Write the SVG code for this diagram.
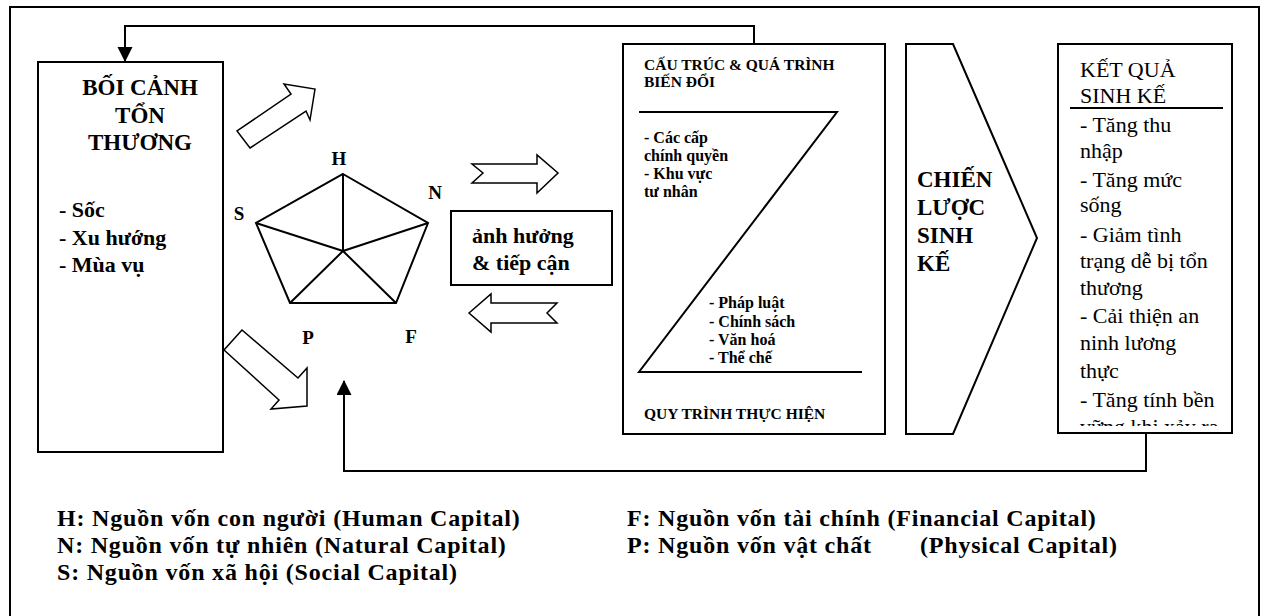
<svg xmlns="http://www.w3.org/2000/svg" width="1267" height="616" viewBox="0 0 1267 616">
<style>
.b{font-family:"Liberation Serif","Times New Roman",serif;font-weight:bold;fill:#000}
.r{font-family:"Liberation Serif","Times New Roman",serif;fill:#000}
.lg{font-size:24px;letter-spacing:0.8px}
.box{fill:#fff;stroke:#000;stroke-width:2}
.blk{fill:#fff;stroke:#000;stroke-width:1.5;stroke-linejoin:miter}
.ln{fill:none;stroke:#000;stroke-width:2}
</style>
<defs>
<marker id="ah" markerWidth="16" markerHeight="16" refX="14" refY="7.5" orient="auto" markerUnits="userSpaceOnUse"><path d="M0,0 L15,7.5 L0,15 Z" fill="#000"/></marker>
<clipPath id="clipOut"><rect x="1058" y="44" width="174" height="382"/></clipPath>
</defs>
<rect width="1267" height="616" fill="#fff"/>
<rect id="frame" x="10" y="7" width="1249" height="620" fill="none" stroke="#000" stroke-width="2"/>

<g id="connectors">
<path class="ln" d="M754,44 V26 H125 V61" marker-end="url(#ah)"/>
<path class="ln" d="M1146,433 V471 H344 V381" marker-end="url(#ah)"/>
<polygon class="blk" points="250,148 306,111 310,120 315,89 284,84 291,94 237,131"/>
<polygon class="blk" points="242,330 224,350 279,400 271,409 307,406 307,368 298,378"/>
<polygon class="blk" points="472,164 537,164 537,155 558,173 537,193 537,183 472,183 483,173"/>
<polygon class="blk" points="469,313 491,294 491,303 557,303 547,313 557,323 491,323 491,332"/>
</g>

<g id="vulnerability">
<rect class="box" x="38" y="62" width="185" height="390"/>
<text class="b" font-size="23" text-anchor="middle"><tspan x="140" y="95">BỐI CẢNH</tspan><tspan x="140" y="123">TỔN</tspan><tspan x="140" y="150">THƯƠNG</tspan></text>
<text class="b" font-size="22"><tspan x="59" y="217">- Sốc</tspan><tspan x="59" y="245">- Xu hướng</tspan><tspan x="59" y="272">- Mùa vụ</tspan></text>
</g>

<g id="assets">
<polygon points="343,174 428,223 396,303 290,303 256,223" fill="#fff" stroke="#000" stroke-width="2"/>
<path d="M343,251 L343,174 M343,251 L428,223 M343,251 L396,303 M343,251 L290,303 M343,251 L256,223" stroke="#000" stroke-width="2" fill="none"/>
<text class="b" font-size="19" text-anchor="middle"><tspan x="339" y="165">H</tspan><tspan x="435" y="199">N</tspan><tspan x="239" y="220">S</tspan><tspan x="308" y="344">P</tspan><tspan x="411" y="343">F</tspan></text>
</g>

<g id="influence">
<rect class="box" x="451" y="211" width="161" height="74"/>
<text class="b" font-size="22"><tspan x="472" y="243">ảnh hưởng</tspan><tspan x="472" y="270">&amp; tiếp cận</tspan></text>
</g>

<g id="structures">
<rect class="box" x="623" y="44" width="262" height="390"/>
<path class="ln" d="M639,112 H837 L639,372 H862"/>
<text class="b" font-size="15.5"><tspan x="644" y="70">CẤU TRÚC &amp; QUÁ TRÌNH</tspan><tspan x="644" y="87">BIẾN ĐỔI</tspan></text>
<text class="b" font-size="16"><tspan x="644" y="143">- Các cấp</tspan><tspan x="644" y="161">chính quyền</tspan><tspan x="644" y="179">- Khu vực</tspan><tspan x="644" y="197">tư nhân</tspan></text>
<text class="b" font-size="16"><tspan x="709" y="308">- Pháp luật</tspan><tspan x="709" y="327">- Chính sách</tspan><tspan x="709" y="345">- Văn hoá</tspan><tspan x="709" y="363">- Thể chế</tspan></text>
<text class="b" font-size="15.5" x="644" y="419">QUY TRÌNH THỰC HIỆN</text>
</g>

<g id="strategies">
<polygon class="box" points="906,44 953,44 1037,238 953,434 906,434"/>
<text class="b" font-size="23"><tspan x="917" y="187">CHIẾN</tspan><tspan x="917" y="215">LƯỢC</tspan><tspan x="917" y="243">SINH</tspan><tspan x="917" y="271">KẾ</tspan></text>
</g>

<g id="outcomes">
<rect class="box" x="1058" y="44" width="174" height="389"/>
<line x1="1070" y1="108" x2="1223" y2="108" stroke="#000" stroke-width="2"/>
<g clip-path="url(#clipOut)">
<text class="r" font-size="22"><tspan x="1080" y="77">KẾT QUẢ</tspan><tspan x="1080" y="103">SINH KẾ</tspan><tspan x="1080" y="132">- Tăng thu</tspan><tspan x="1080" y="158">nhập</tspan><tspan x="1080" y="187">- Tăng mức</tspan><tspan x="1080" y="212">sống</tspan><tspan x="1080" y="242">- Giảm tình</tspan><tspan x="1080" y="268">trạng dễ bị tổn</tspan><tspan x="1080" y="295">thương</tspan><tspan x="1080" y="323">- Cải thiện an</tspan><tspan x="1080" y="350">ninh lương</tspan><tspan x="1080" y="378">thực</tspan><tspan x="1080" y="407">- Tăng tính bền</tspan><tspan x="1080" y="434">vững khi xảy ra</tspan></text>
</g>
</g>

<g id="legend">
<text class="b lg"><tspan x="57" y="526">H: Nguồn vốn con người (Human Capital)</tspan><tspan x="57" y="553">N: Nguồn vốn tự nhiên (Natural Capital)</tspan><tspan x="57" y="580">S: Nguồn vốn xã hội (Social Capital)</tspan></text>
<text class="b lg"><tspan x="627" y="526">F: Nguồn vốn tài chính (Financial Capital)</tspan><tspan x="627" y="553">P: Nguồn vốn vật chất</tspan><tspan x="920" y="553">(Physical Capital)</tspan></text>
</g>
</svg>
